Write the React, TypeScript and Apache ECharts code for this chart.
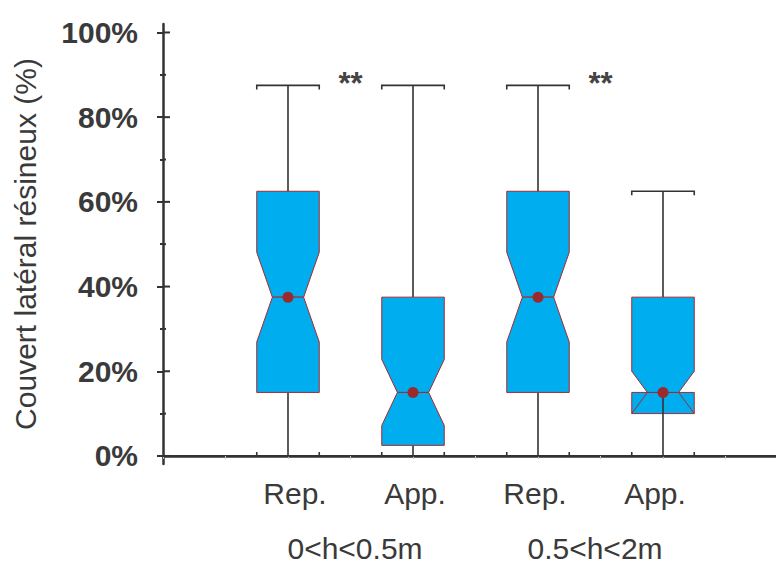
import React, { useEffect, useRef } from "react";
import * as echarts from "echarts";

// ---- data ----
const categories = ["Rep.", "App.", "Rep.", "App."];
const groups = ["0<h<0.5m", "0.5<h<2m"];
const whiskerLow = [0, 0, 0, 0];
const q1 = [15, 2.5, 15, 10];
const median = [37.5, 15, 37.5, 15];
const q3 = [62.5, 37.5, 62.5, 37.5];
const whiskerHigh = [87.5, 87.5, 87.5, 62.5];
const notchLow = [26.9, 7.2, 26.9, 10];
const notchHigh = [48.1, 22.8, 48.1, 20];
const sigMarks = ["**", "**"];
const sigLevel = [88, 88];
const majorTicks = [0, 20, 40, 60, 80, 100];
const minorTicks = [10, 30, 50, 70, 90];

const FONT = "'Liberation Sans', Arial, sans-serif";
const TEXT = "#3a3a3a";
const AXIS = "#333333";
const FILL = "#00adef";
const EDGE = "#a52a2f";
const DOT = "#9b2a2e";

export default function App() {
  const ref = useRef<HTMLDivElement>(null);
  useEffect(() => {
    if (!ref.current) return;
    const chart = echarts.init(ref.current, undefined, { renderer: "svg" });

    const boxRows = categories.map((_, i) => [
      2 * (i + 1),
      whiskerLow[i],
      q1[i],
      median[i],
      q3[i],
      whiskerHigh[i],
      notchLow[i],
      notchHigh[i],
    ]);
    const sigRows = sigMarks.map((m, i) => [4 * i + 3, sigLevel[i]]);
    const innerTickRows = [
      ...majorTicks.map((v) => [0, v, 7]),
      ...minorTicks.map((v) => [0, v, 3]),
    ];

    const option: any = {
      animation: false,
      grid: { left: 163, right: 0, top: 24, bottom: 101, outerBoundsMode: "none" },
      xAxis: [
        {
          type: "value",
          min: 0,
          max: 9.808,
          interval: 1,
          position: "bottom",
          axisLine: { show: true, lineStyle: { color: AXIS, width: 2.5 } },
          axisTick: { show: true, length: 3, lineStyle: { color: "#c8c8c8", width: 1 } },
          axisLabel: { show: false },
          splitLine: { show: false },
        },
        {
          type: "value",
          min: 0,
          max: 9.808,
          position: "top",
          axisLine: { show: true, lineStyle: { color: AXIS, width: 2 } },
          axisTick: { show: false },
          axisLabel: { show: false },
          splitLine: { show: false },
        },
        {
          type: "value",
          min: -0.2,
          max: 10.0167,
          position: "bottom",
          axisLine: { show: false },
          axisTick: { show: false },
          splitLine: { show: false },
          axisLabel: {
            show: true,
            customValues: categories.map((_, i) => 2 * (i + 1)),
            formatter: (v: number) => categories[Math.round(v / 2) - 1] ?? "",
            fontFamily: FONT,
            fontSize: 30,
            color: TEXT,
            margin: 14,
          },
        },
        {
          type: "value",
          min: -0.2,
          max: 10.0167,
          position: "bottom",
          offset: 55,
          axisLine: { show: false },
          axisTick: { show: false },
          splitLine: { show: false },
          axisLabel: {
            show: true,
            customValues: groups.map((_, i) => 4 * i + 3),
            formatter: (v: number) => groups[Math.round((v - 3) / 4)] ?? "",
            fontFamily: FONT,
            fontSize: 30,
            color: TEXT,
            margin: 14,
          },
        },
      ],
      yAxis: [
        {
          type: "value",
          min: -1.9,
          max: 102,
          position: "left",
          splitLine: { show: false },
          axisLine: { show: true, lineStyle: { color: AXIS, width: 2.5 } },
          axisTick: { show: true, customValues: majorTicks, length: 6, lineStyle: { color: AXIS, width: 2 } },
          axisLabel: {
            show: true,
            customValues: majorTicks,
            formatter: (v: number) => `${v}%`,
            fontFamily: FONT,
            fontSize: 30,
            fontWeight: "bold",
            color: TEXT,
            margin: 25,
          },
          name: "Couvert latéral résineux (%)",
          nameLocation: "middle",
          nameRotate: 90,
          nameGap: 123,
          nameTextStyle: { fontFamily: FONT, fontSize: 30, color: TEXT },
        },
        {
          type: "value",
          min: -1.9,
          max: 102,
          position: "left",
          splitLine: { show: false },
          axisLine: { show: false },
          axisTick: { show: true, customValues: minorTicks, length: 3, lineStyle: { color: AXIS, width: 2 } },
          axisLabel: { show: false },
        },
      ],
      series: [
        {
          type: "custom",
          xAxisIndex: 0,
          yAxisIndex: 0,
          encode: { x: 0, y: 1 },
          data: innerTickRows,
          renderItem: (params: any, api: any) => {
            const p = api.coord([api.value(0), api.value(1)]);
            return {
              type: "line",
              shape: { x1: p[0], y1: p[1], x2: p[0] + api.value(2), y2: p[1] },
              style: { stroke: AXIS, lineWidth: 2 },
            };
          },
        },
        {
          type: "custom",
          xAxisIndex: 0,
          yAxisIndex: 0,
          encode: { x: 0, y: 3 },
          data: boxRows,
          renderItem: (params: any, api: any) => {
            const x = api.value(0);
            const lo = api.value(1);
            const b1 = api.value(2);
            const med = api.value(3);
            const b3 = api.value(4);
            const hi = api.value(5);
            const nlo = api.value(6);
            const nhi = api.value(7);
            const unit = api.size([1, 0])[0];
            const hw = unit * 0.5;
            const nw = unit * 0.25;
            const cx = api.coord([x, med])[0];
            const Y = (v: number) => api.coord([x, v])[1];
            const L = cx - hw;
            const R = cx + hw;
            const nl = cx - nw;
            const nr = cx + nw;
            const fold = nlo <= b1;
            const edge = { stroke: EDGE, lineWidth: 1, fill: FILL };
            const wh = { stroke: AXIS, lineWidth: 1.6, fill: "none" };
            const ch: any[] = [];
            if (fold) {
              ch.push({
                type: "rect",
                shape: { x: L, y: Y(med), width: R - L, height: Y(b1) - Y(med) },
                style: { ...edge },
              });
            }
            ch.push({ type: "line", shape: { x1: cx, y1: Y(b3), x2: cx, y2: Y(hi) }, style: wh });
            ch.push({ type: "line", shape: { x1: cx, y1: Y(fold ? med : b1), x2: cx, y2: Y(lo) }, style: wh });
            ch.push({
              type: "polyline",
              shape: { points: [[L, Y(hi) + 4], [L, Y(hi)], [R, Y(hi)], [R, Y(hi) + 4]] },
              style: wh,
            });
            ch.push({
              type: "polyline",
              shape: { points: [[L, Y(lo) - 4], [L, Y(lo)], [R, Y(lo)], [R, Y(lo) - 4]] },
              style: wh,
            });
            ch.push({
              type: "polygon",
              shape: { points: [[L, Y(b3)], [R, Y(b3)], [R, Y(nhi)], [nr, Y(med)], [nl, Y(med)], [L, Y(nhi)]] },
              style: { ...edge },
            });
            if (!fold) {
              ch.push({
                type: "polygon",
                shape: { points: [[nl, Y(med)], [nr, Y(med)], [R, Y(nlo)], [R, Y(b1)], [L, Y(b1)], [L, Y(nlo)]] },
                style: { ...edge },
              });
            } else {
              ch.push({ type: "line", shape: { x1: nl, y1: Y(med), x2: L, y2: Y(b1) }, style: { stroke: EDGE, lineWidth: 1 } });
              ch.push({ type: "line", shape: { x1: nr, y1: Y(med), x2: R, y2: Y(b1) }, style: { stroke: EDGE, lineWidth: 1 } });
            }
            ch.push({ type: "circle", shape: { cx, cy: Y(med), r: 5.5 }, style: { fill: DOT } });
            return { type: "group", children: ch };
          },
        },
        {
          type: "custom",
          xAxisIndex: 0,
          yAxisIndex: 0,
          encode: { x: 0, y: 1 },
          data: sigRows,
          renderItem: (params: any, api: any) => {
            const p = api.coord([api.value(0), api.value(1)]);
            return {
              type: "text",
              x: p[0],
              y: p[1],
              style: {
                text: sigMarks[params.dataIndex],
                fontFamily: FONT,
                fontSize: 31,
                fontWeight: "bold",
                fill: "#444444",
                align: "center",
                verticalAlign: "middle",
              },
            };
          },
        },
      ],
    };
    chart.setOption(option);
    return () => chart.dispose();
  }, []);
  return (
    <div
      ref={ref}
      style={{ position: "fixed", left: 0, top: 0, width: 776, height: 565, background: "#fff" }}
    />
  );
}
